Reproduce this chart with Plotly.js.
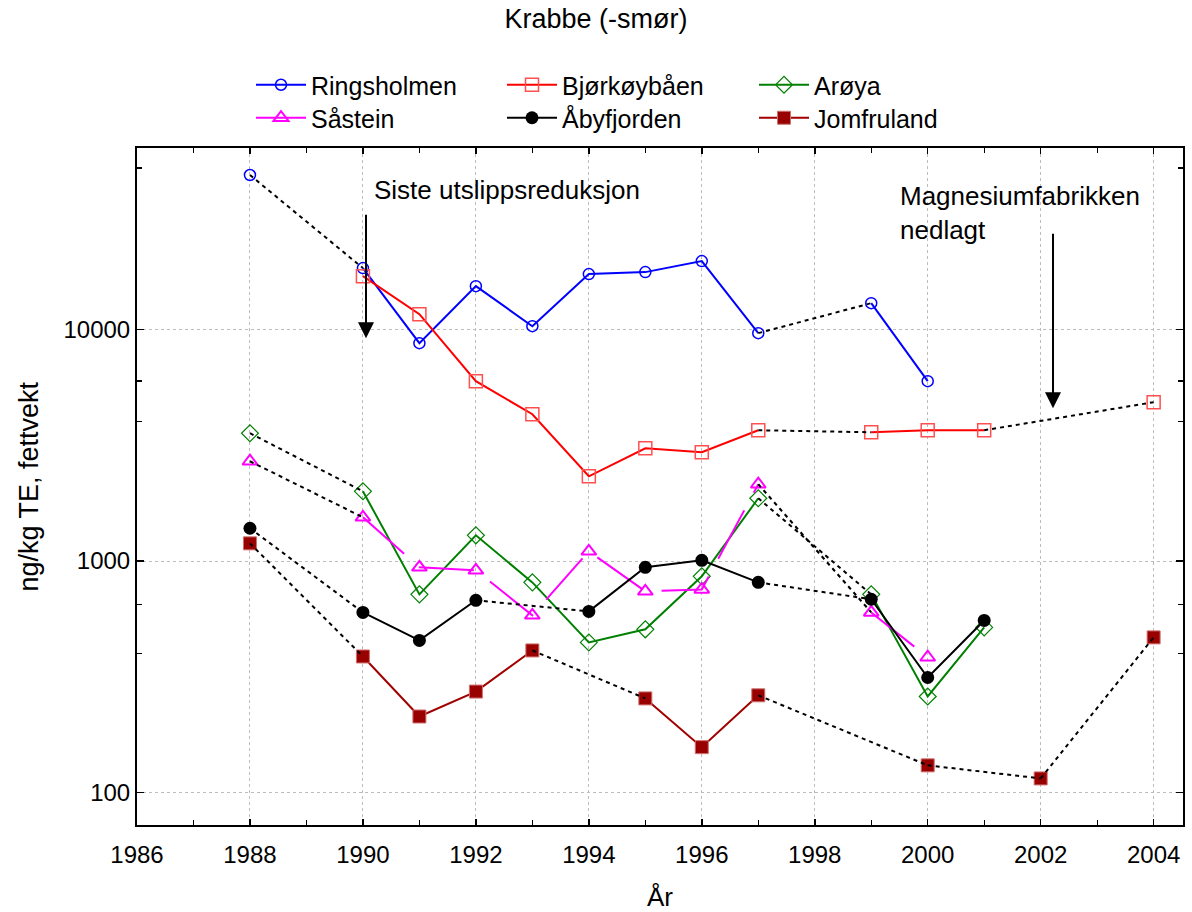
<!DOCTYPE html>
<html><head><meta charset="utf-8">
<script src="https://cdn.plot.ly/plotly-3.0.1.min.js"></script>
<style>html,body{margin:0;padding:0;background:#fff}#chart{width:1192px;height:912px}</style>
</head><body><div id="chart"></div>
<script>
// Years 1988..2004 (null = no sample that year)
const years = [1988,1989,1990,1991,1992,1993,1994,1995,1996,1997,1998,1999,2000,2001,2002,2003,2004];
const ringsholmen = [46600,null,18450,8740,15420,10350,17380,17730,19790,9660,null,13020,5990,null,null,null,null];
const bjorkoybaen = [null,null,17030,11670,5990,4310,2325,3073,2954,3676,null,3603,3676,3676,null,null,4858];
const aroya       = [3568,null,2002,718,1292,809,445,507,859,1868,null,718,260,517,null,null,null];
const sastein     = [2700,null,1546,940,912,583,1102,740,754,2148,null,600,384,null,null,null,null];
const abyfjorden  = [1386,null,600,454,677,null,606,940,1007,809,null,684,314,554,null,null,null];
const jomfruland  = [1193,null,387,213,273,411,null,255,157,263,null,null,131,null,115,null,468];

const seriesNames = ['Ringsholmen','Bjørkøybåen','Arøya','Såstein','Åbyfjorden','Jomfruland'];
const xTickVals = [1986,1988,1990,1992,1994,1996,1998,2000,2002,2004];
const yTickVals = [100,1000,10000];
const yTickText = ['100','1000','10000'];
const yMinorTicks = [400,650,4000,6000,50000];
const title = 'Krabbe (-smør)';
const xTitle = 'År';
const yTitle = 'ng/kg TE, fettvekt';
const note1 = 'Siste utslippsreduksjon';
const note2 = 'Magnesiumfabrikken<br>nedlagt';

const FONT = 'Liberation Sans, Arial, Helvetica, sans-serif';

const styles = [
  {vals: ringsholmen, line:{color:'#0000ff', width:2}, marker:{symbol:'circle-open', size:11, color:'#0000ff', line:{width:1.5}}},
  {vals: bjorkoybaen, line:{color:'#ff0000', width:2}, marker:{symbol:'square-open', size:13, color:'#ff5050', line:{width:1.5}}},
  {vals: aroya,       line:{color:'#008000', width:2}, marker:{symbol:'diamond-open', size:13, color:'#008000', line:{width:1.2}}},
  {vals: sastein,     line:{color:'#ff00ff', width:2, dash:'55px,20px'}, marker:{symbol:'triangle-up-open', size:13, color:'#ff00ff', line:{width:2}}},
  {vals: abyfjorden,  line:{color:'#000000', width:2}, marker:{symbol:'circle', size:13, color:'#000000'}},
  {vals: jomfruland,  line:{color:'#a00000', width:2}, marker:{symbol:'square', size:13, color:'#990000', line:{color:'#d07070', width:1}}}
];
// legend slot (column x in px, row top in px) for each series
const legendX = [251, 502, 754, 251, 502, 754];
const legendTop = [62, 62, 62, 95, 95, 95];

function gapLinks(vals){
  const xs=[], ys=[]; let prev=-1;
  vals.forEach((v,i)=>{
    if(v==null) return;
    if(prev>=0 && i-prev>1){ xs.push(years[prev], years[i], null); ys.push(vals[prev], v, null); }
    prev=i;
  });
  return {xs, ys};
}

const legendIds = ['legend','legend2','legend3','legend4','legend5','legend6'];
const traces = [];
styles.forEach((s,k)=>{
  traces.push({type:'scatter', mode:'lines+markers', name:seriesNames[k], x:years, y:s.vals,
    connectgaps:false, line:s.line, marker:s.marker, legend:legendIds[k], hoverinfo:'x+y+name'});
});
styles.forEach((s,k)=>{
  const g = gapLinks(s.vals);
  traces.push({type:'scatter', mode:'lines', x:g.xs, y:g.ys, showlegend:false, connectgaps:false,
    line:{color:'#000000', width:2, dash:'4px,4px'}, hoverinfo:'skip'});
});

const PL = 137, PW = 1046, PB = 824.5, PH = 676.5;
const layout = {
  width:1192, height:912,
  paper_bgcolor:'#ffffff', plot_bgcolor:'#ffffff',
  font:{family:FONT, color:'#000'},
  margin:{l:137, r:9, t:148, b:87, autoexpand:false},
  title:{text:title, font:{family:FONT, size:27, color:'#000'}, x:0.5, xref:'container', y:1-19/912, yref:'container', yanchor:'middle'},
  showlegend:true,
  xaxis:{
    range:[1986, 2004.52], tickvals:xTickVals, ticks:'inside', ticklen:6, tickwidth:1.5, tickcolor:'#000',
    minor:{dtick:1, tick0:1986, ticks:'inside', ticklen:5, tickwidth:1.2, tickcolor:'#000', showgrid:false},
    showline:true, linecolor:'#000', linewidth:2, mirror:'allticks',
    showgrid:true, gridcolor:'#bdbdbd', griddash:'dot', gridwidth:1, zeroline:false,
    tickfont:{family:FONT, size:24, color:'#000'}, ticklabelstandoff:7,
    title:{text:xTitle, font:{family:FONT, size:26, color:'#000'}, standoff:22}
  },
  yaxis:{
    type:'log', range:[1.8595, 4.785], tickvals:yTickVals, ticktext:yTickText,
    ticks:'inside', ticklen:7, tickwidth:1.5, tickcolor:'#000',
    minor:{tickvals:yMinorTicks, ticks:'inside', ticklen:5, tickwidth:1.2, tickcolor:'#000', showgrid:false},
    showline:true, linecolor:'#000', linewidth:2, mirror:'allticks',
    showgrid:true, gridcolor:'#bdbdbd', griddash:'dot', gridwidth:1, zeroline:false,
    tickfont:{family:FONT, size:24, color:'#000'}
  },
  annotations:[
    {xref:'paper', yref:'paper', x:(28-PL)/PW, y:0.5, xanchor:'center', yanchor:'middle', textangle:-90,
     text:yTitle, showarrow:false, font:{family:FONT, size:27, color:'#000'}},
    {xref:'paper', yref:'paper', x:(372-PL)/PW, y:(PB-190)/PH, xanchor:'left', yanchor:'middle',
     text:note1, showarrow:false, font:{family:FONT, size:26, color:'#000'}},
    {xref:'paper', yref:'paper', x:(898-PL)/PW, y:(PB-212.5)/PH, xanchor:'left', yanchor:'middle', align:'left',
     text:note2, showarrow:false, font:{family:FONT, size:26, color:'#000'}},
    {xref:'paper', yref:'paper', x:(366-PL)/PW, y:(PB-338)/PH, text:'', showarrow:true,
     ax:0, ay:-125, arrowhead:2, arrowsize:1.6, arrowwidth:2, arrowcolor:'#000'},
    {xref:'paper', yref:'paper', x:(1053-PL)/PW, y:(PB-408)/PH, text:'', showarrow:true,
     ax:0, ay:-176, arrowhead:2, arrowsize:1.6, arrowwidth:2, arrowcolor:'#000'}
  ]
};
legendIds.forEach((id,k)=>{
  layout[id] = {orientation:'v', xref:'container', yref:'container', xanchor:'left', yanchor:'top',
    x: legendX[k]/1192, y: 1-legendTop[k]/912, bgcolor:'rgba(0,0,0,0)', borderwidth:0,
    font:{family:FONT, size:25, color:'#000'}, itemwidth:50};
});

Plotly.newPlot('chart', traces, layout, {displayModeBar:false, staticPlot:true});
</script>
</body></html>
